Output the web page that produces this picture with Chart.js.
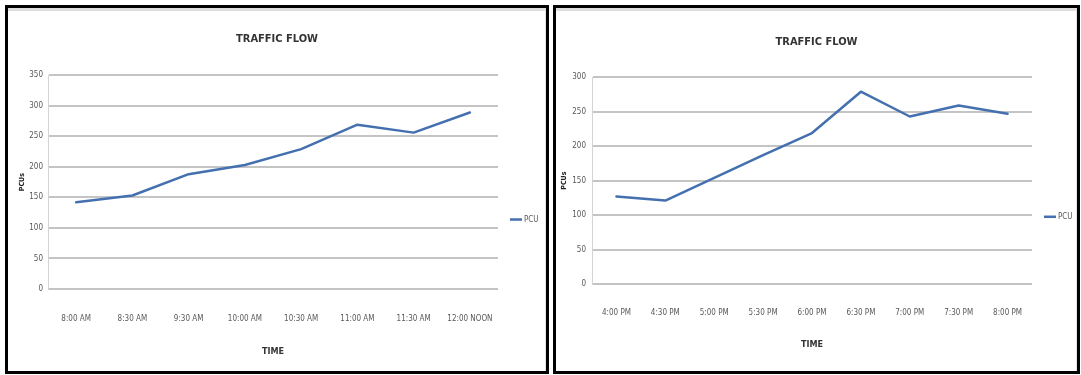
<!DOCTYPE html>
<html>
<head>
<meta charset="utf-8">
<script src="https://cdn.jsdelivr.net/npm/chart.js@4.4.1/dist/chart.umd.min.js"></script>
<style>
  html, body { margin: 0; padding: 0; background: #fff; }
  body { width: 1081px; height: 375px; position: relative; overflow: hidden; }
  .box { position: absolute; top: 5px; height: 369px; border: 3px solid #000; box-sizing: border-box; background: #fff; }
  .frame { position: absolute; left: 0; top: 0; right: 0; bottom: 0; border-top: 3px solid #dcdcdc; border-right: 1px solid #e2e2e2; }
  .box canvas { position: absolute; left: 0; top: 0; }
</style>
</head>
<body>
<div class="box" style="left:5px; width:544px;">
  <div class="frame"></div>
  <canvas id="morningChart" width="538" height="363"></canvas>
</div>
<div class="box" style="left:553px; width:527px;">
  <div class="frame"></div>
  <canvas id="eveningChart" width="521" height="363"></canvas>
</div>
<script>
const morningTimes = ["8:00 AM", "8:30 AM", "9:30 AM", "10:00 AM", "10:30 AM", "11:00 AM", "11:30 AM", "12:00 NOON"];
const morningPcu = [142, 153, 188, 203, 229, 269, 256, 289];

const eveningTimes = ["4:00 PM", "4:30 PM", "5:00 PM", "5:30 PM", "6:00 PM", "6:30 PM", "7:00 PM", "7:30 PM", "8:00 PM"];
const eveningPcu = [127, 121, 154, 187, 219, 279, 243, 259, 247];

const seriesName = "PCU";
const chartTitle = "TRAFFIC FLOW";
const xTitle = "TIME";
const yTitle = "PCUs";

const FONT = "'Liberation Sans Narrow', 'DejaVu Sans', sans-serif";
const lineColor = "#4470b0";
const gridColor = "#c4c4c4";
const textColor = "#595959";

// small legend to the right of the plot, like the Excel one
const sideLegend = {
  id: "sideLegend",
  afterDraw(chart) {
    const {ctx, chartArea} = chart;
    const ds = chart.data.datasets[0];
    const x = chartArea.right + 12;
    const y = chartArea.top + (chartArea.bottom - chartArea.top) * 0.675;
    ctx.save();
    ctx.strokeStyle = ds.borderColor;
    ctx.lineWidth = 2.5;
    ctx.beginPath();
    ctx.moveTo(x, y);
    ctx.lineTo(x + 12, y);
    ctx.stroke();
    ctx.fillStyle = textColor;
    ctx.font = "condensed 8px " + FONT;
    ctx.textBaseline = "middle";
    ctx.fillText(ds.label, x + 14, y);
    ctx.restore();
  }
};

function makeChart(id, labels, values, cfg) {
  const ctx = document.getElementById(id).getContext("2d");
  return new Chart(ctx, {
    type: "line",
    data: {
      labels: labels,
      datasets: [{
        label: seriesName,
        data: values,
        borderColor: lineColor,
        backgroundColor: lineColor,
        borderWidth: 2.5,
        pointRadius: 0,
        tension: 0,
        borderJoinStyle: "round",
        borderCapStyle: "round"
      }]
    },
    options: {
      responsive: false,
      animation: false,
      plugins: {
        legend: { display: false },
        tooltip: { enabled: false },
        title: {
          display: true,
          text: chartTitle,
          color: "#333",
          font: { family: FONT, size: 11, weight: "condensed bold" },
          padding: { top: cfg.titleTop, bottom: cfg.titleBottom }
        }
      },
      scales: {
        x: {
          offset: true,
          grid: { display: false, drawTicks: false },
          border: { display: false },
          ticks: {
            color: textColor,
            font: { family: FONT, size: 8, weight: "condensed" },
            padding: cfg.xTickPad,
            maxRotation: 0,
            autoSkip: false
          },
          title: {
            display: true,
            text: xTitle,
            color: "#333",
            font: { family: FONT, size: 9, weight: "condensed bold" },
            padding: { top: 0, bottom: cfg.xTitleBottom }
          },
          afterFit: (scale) => { scale.height = cfg.xHeight; }
        },
        y: {
          min: 0,
          max: cfg.yMax,
          grid: { color: gridColor, lineWidth: 2, drawTicks: false },
          border: { display: true, color: "#d4d4d4", width: 1 },
          ticks: {
            stepSize: 50,
            color: textColor,
            font: { family: FONT, size: 8, weight: "condensed" },
            padding: cfg.yTickPad
          },
          title: {
            display: true,
            text: yTitle,
            color: "#222",
            font: { family: FONT, size: 7, weight: "condensed bold" },
            padding: { top: cfg.yTitleTop, bottom: 0 }
          },
          afterFit: (scale) => { scale.width = cfg.yWidth; }
        },
        // empty right-hand axis, keeps room for the legend without shifting the title
        side: {
          position: "right",
          grid: { display: false, drawTicks: false },
          border: { display: false },
          ticks: { display: false },
          afterFit: (scale) => { scale.width = cfg.padRight; }
        }
      }
    },
    plugins: [sideLegend]
  });
}

makeChart("morningChart", morningTimes, morningPcu, {
  yMax: 350, padRight: 48, titleTop: 25, titleBottom: 29,
  xHeight: 82, xTickPad: 25, xTitleBottom: 14,
  yWidth: 40, yTickPad: 5, yTitleTop: 10
});

makeChart("eveningChart", eveningTimes, eveningPcu, {
  yMax: 300, padRight: 45, titleTop: 28, titleBottom: 28,
  xHeight: 87, xTickPad: 24, xTitleBottom: 21,
  yWidth: 36, yTickPad: 6, yTitleTop: 4
});
</script>
</body>
</html>
